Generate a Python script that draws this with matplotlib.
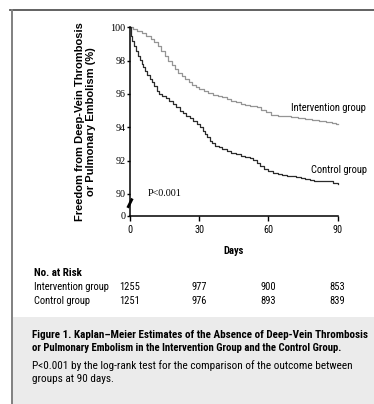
import matplotlib
matplotlib.use("Agg")
import os
import matplotlib.pyplot as plt
import matplotlib.font_manager as fm
from matplotlib.lines import Line2D
from matplotlib.patches import Rectangle
import matplotlib.transforms as mtransforms

# ---------------- data ----------------
int_days = [0, 1.5, 3, 5, 7, 9, 10.5, 12, 13.5, 15, 16.5, 18, 19.5, 21, 22.5, 24,
            25.5, 27, 28.5, 30, 32, 34, 36, 38, 40, 42, 44, 46, 48, 50, 52, 55,
            57, 59, 61, 64, 67, 70, 73, 76, 79, 82, 85, 87.5, 89.5, 90]
int_surv = [100, 99.9, 99.8, 99.65, 99.5, 99.3, 99.1, 98.9, 98.6, 98.3, 98.0, 97.75,
            97.5, 97.25, 97.05, 96.9, 96.7, 96.55, 96.4, 96.3, 96.15, 96.05, 95.95,
            95.85, 95.8, 95.7, 95.6, 95.5, 95.42, 95.33, 95.25, 95.2, 95.05, 94.9,
            94.75, 94.7, 94.65, 94.6, 94.55, 94.5, 94.45, 94.4, 94.32, 94.25, 94.2, 94.2]

ctl_days = [0, 0.3, 1, 1.8, 2.6, 3.4, 4.2, 5, 5.8, 6.6, 7.5, 8.5, 9.5, 10.5, 11.5,
            12.5, 13.8, 15.5, 17, 18.5, 20, 21.5, 23, 24.5, 26, 27.5, 29, 30.5, 31.5,
            32.5, 33.5, 34.5, 35.5, 37, 38.5, 40, 42, 44, 46, 48, 50, 52, 53.5, 55,
            56.5, 58, 60, 62, 64, 66, 68, 70, 72, 74, 76, 78, 80, 83, 86, 88, 90]
ctl_surv = [100, 99.5, 99.2, 98.9, 98.6, 98.3, 98.05, 97.8, 97.6, 97.4, 97.15, 96.9,
            96.7, 96.45, 96.2, 96.0, 95.85, 95.75, 95.6, 95.4, 95.2, 95.0, 94.85, 94.7,
            94.55, 94.4, 94.2, 94.0, 93.8, 93.6, 93.4, 93.2, 93.05, 92.9, 92.8, 92.7,
            92.6, 92.45, 92.38, 92.3, 92.22, 92.15, 92.05, 91.85, 91.65, 91.5, 91.35,
            91.25, 91.2, 91.15, 91.1, 91.05, 91.0, 90.95, 90.9, 90.85, 90.8, 90.78,
            90.75, 90.65, 90.6]

x_ticks = [0, 30, 60, 90]
y_ticks = [90, 92, 94, 96, 98, 100]
risk_groups = ["Intervention group", "Control group"]
risk_int = [1255, 977, 900, 853]
risk_ctl = [1251, 976, 893, 839]

caption = [
    "Figure 1. Kaplan\u2013Meier Estimates of the Absence of Deep-Vein Thrombosis",
    "or Pulmonary Embolism in the Intervention Group and the Control Group.",
    "P<0.001 by the log-rank test for the comparison of the outcome between",
    "groups at 90 days.",
]

# ---------------- fonts ----------------
def pick_narrow():
    cands = [("Liberation Sans Narrow", "normal"), ("Roboto Condensed", "normal"),
             ("Open Sans Condensed", "normal"), ("Noto Sans Condensed", "normal"),
             ("DejaVu Sans Condensed", "normal"),
             ("Noto Sans", "condensed"), ("DejaVu Sans", "condensed"),
             ("Open Sans", "condensed"), ("Roboto", "condensed")]
    for fam, st in cands:
        try:
            path = fm.findfont(fm.FontProperties(family=fam, stretch=st), fallback_to_default=False)
        except Exception:
            continue
        base = os.path.basename(path).lower()
        if st == "normal" or "condensed" in base or "narrow" in base:
            return fam, st
    return "Liberation Sans", "normal"

NARROW, NSTRETCH = pick_narrow()
SANS = "Liberation Sans"
SERIF = "Liberation Serif"
NF = dict(fontfamily=NARROW, fontstretch=NSTRETCH)

W, H = 374, 404
fig = plt.figure(figsize=(W / 100, H / 100), dpi=100)

def fx(x):
    return x / W

def fy(y):
    return 1 - y / H

# frame + caption box
fig.patches.append(Rectangle((fx(12.5), 0), fx(W) - fx(12.5), fy(317), transform=fig.transFigure,
                             facecolor="#ebebeb", edgecolor="none", zorder=0))
fig.add_artist(Line2D([fx(10), fx(W)], [fy(9.5), fy(9.5)], color="#555555", lw=1.3, transform=fig.transFigure))
fig.add_artist(Line2D([fx(11.5), fx(11.5)], [fy(9.5), 0], color="#808080", lw=1.4, transform=fig.transFigure))

# axes
y0 = 88.71
ytop = 100.15
px_per_unit = 16.67
ax_bottom_py = 215.5
ax_top_py = ax_bottom_py - (ytop - y0) * px_per_unit
ax = fig.add_axes([fx(130), fy(ax_bottom_py), fx(337.5) - fx(130), (ax_bottom_py - ax_top_py) / H])
ax.set_xlim(0, 90)
ax.set_ylim(y0, ytop)
ax.patch.set_alpha(0)

ax.plot(int_days, int_surv, drawstyle="steps-post", color="#959595", lw=0.9, clip_on=False)
ax.plot(ctl_days, ctl_surv, drawstyle="steps-post", color="#2b2b2b", lw=0.9, clip_on=False)

for s in ["top", "right"]:
    ax.spines[s].set_visible(False)
ax.spines["left"].set_bounds(y0, 100)
ax.spines["left"].set_linewidth(1.1)
ax.spines["bottom"].set_linewidth(1.1)

ax.set_yticks([y0] + y_ticks)
ax.set_yticklabels(["0"] + [str(v) for v in y_ticks], fontfamily=SERIF, fontsize=7.3)
ax.tick_params(axis="y", direction="out", length=2.5, width=1, pad=0.8)
ax.set_xticks(x_ticks)
ax.set_xticklabels([str(v) for v in x_ticks], fontsize=7.3, **NF)
ax.tick_params(axis="x", direction="out", length=3.5, width=1, pad=3.0)

# axis break mark
brk_y = 89.45
ax.plot([-1.0, 1.0], [brk_y - 0.28, brk_y + 0.28], color="black", lw=2.0, clip_on=False,
        solid_capstyle="butt")

ax.text(7.8, 90.0, "P<0.001", fontfamily=SERIF, fontsize=7.3, va="center", ha="left")

renderer = fig.canvas.get_renderer()

def fit(t, width_px):
    w = t.get_window_extent(renderer=renderer).width
    t.set_fontsize(t.get_fontsize() * width_px / w)
    return t.get_fontsize()

t_int = ax.text(70.0, 95.16, "Intervention group", fontsize=7, va="center", ha="left", clip_on=False, **NF)
fs_lab = fit(t_int, 76)
ax.text(78.7, 91.44, "Control group", fontsize=fs_lab, va="center", ha="left", clip_on=False, **NF)

ax.set_xlabel("Days", fontsize=7.6, fontweight="bold", labelpad=8, **NF)

ylab = fig.text(fx(85.5), fy(121.5), "Freedom from Deep-Vein Thrombosis\nor Pulmonary Embolism (%)",
                rotation=90, ha="center", va="center", multialignment="center",
                fontfamily=SANS, fontweight="bold", fontsize=7.6, linespacing=1.05)
# keep the label's long side at the reference length (~197 px)
h = ylab.get_window_extent(renderer=renderer).height
ylab.set_fontsize(ylab.get_fontsize() * 197 / h)

# risk table
fig.text(fx(34), fy(273), "No. at Risk", fontweight="bold", fontsize=fs_lab * 1.05, va="center", **NF)
blend = mtransforms.blended_transform_factory(ax.transData, fig.transFigure)
for row_y, name, vals in [(287, risk_groups[0], risk_int), (301, risk_groups[1], risk_ctl)]:
    fig.text(fx(34), fy(row_y), name, fontsize=fs_lab, va="center", **NF)
    for xv, v in zip(x_ticks, vals):
        ax.text(xv, fy(row_y), str(v), transform=blend, fontsize=fs_lab,
                ha="center", va="center", clip_on=False, **NF)

# caption
c1 = fig.text(fx(32), fy(335), caption[0], fontweight="bold", fontsize=7, va="center", **NF)
fit(c1, 336)
c2 = fig.text(fx(32), fy(348), caption[1], fontweight="bold", fontsize=7, va="center", **NF)
fit(c2, 313)
c3 = fig.text(fx(32), fy(366), caption[2], fontsize=7, va="center", **NF)
fs3 = fit(c3, 325)
fig.text(fx(32), fy(379), caption[3], fontsize=fs3, va="center", **NF)

fig.savefig("out.png", dpi=100)
